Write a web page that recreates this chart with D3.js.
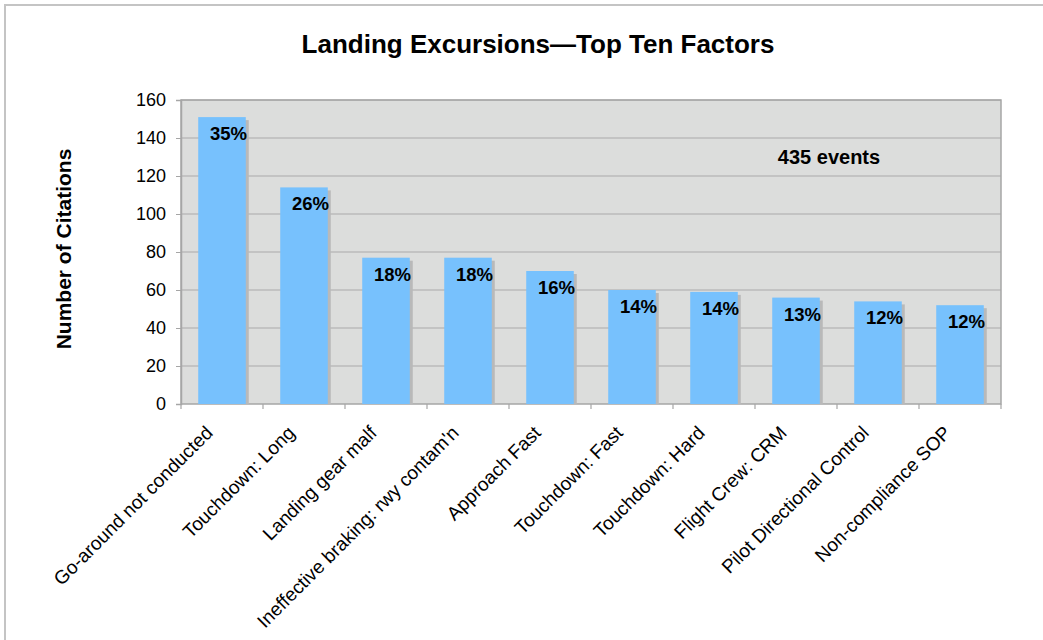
<!DOCTYPE html>
<html>
<head>
<meta charset="utf-8">
<script src="https://cdn.jsdelivr.net/npm/d3@7"></script>
<style>
  html, body { margin: 0; padding: 0; background: #fff; }
  svg { display: block; font-family: "Liberation Sans", Arial, sans-serif; }
</style>
</head>
<body>
<svg id="chart" width="1043" height="640"></svg>
<script>
// Landing excursion contributing factors (citations out of 435 events)
const categories = [
  "Go-around not conducted",
  "Touchdown: Long",
  "Landing gear malf",
  "Ineffective braking: rwy contam'n",
  "Approach Fast",
  "Touchdown: Fast",
  "Touchdown: Hard",
  "Flight Crew: CRM",
  "Pilot Directional Control",
  "Non-compliance SOP"
];
const citations = [151, 114, 77, 77, 70, 60, 59, 56, 54, 52];
const percentLabels = ["35%", "26%", "18%", "18%", "16%", "14%", "14%", "13%", "12%", "12%"];
const yTicks = [0, 20, 40, 60, 80, 100, 120, 140, 160];
const totalEvents = 435;

const svg = d3.select("#chart");
const plot = { left: 181, right: 1001, top: 100, bottom: 404 };

// outer frame
svg.append("path")
  .attr("d", "M5,640 V5 H1043")
  .attr("fill", "none")
  .attr("stroke", "#c4c4c4")
  .attr("stroke-width", 2);

const x = d3.scaleBand()
  .domain(categories)
  .range([plot.left, plot.right])
  .paddingInner(0.42)
  .paddingOuter(0.21);

const y = d3.scaleLinear()
  .domain([0, 160])
  .range([plot.bottom, plot.top]);

// plot background
svg.append("rect")
  .attr("x", plot.left).attr("y", plot.top)
  .attr("width", plot.right - plot.left)
  .attr("height", plot.bottom - plot.top)
  .attr("fill", "#dcdddc");

// gridlines
svg.append("g")
  .selectAll("line")
  .data(yTicks.filter(d => d > 0))
  .join("line")
  .attr("x1", plot.left).attr("x2", plot.right)
  .attr("y1", d => y(d)).attr("y2", d => y(d))
  .attr("stroke", "#a9a9a9")
  .attr("stroke-width", 1.2);

// plot border
svg.append("rect")
  .attr("x", plot.left).attr("y", plot.top)
  .attr("width", plot.right - plot.left)
  .attr("height", plot.bottom - plot.top)
  .attr("fill", "none")
  .attr("stroke", "#a6a6a6")
  .attr("stroke-width", 1.5);

// bar shadows
svg.append("g")
  .selectAll("rect")
  .data(citations)
  .join("rect")
  .attr("x", (d, i) => x(categories[i]) + 3)
  .attr("y", d => y(d) + 3)
  .attr("width", x.bandwidth())
  .attr("height", d => plot.bottom - y(d) - 3)
  .attr("fill", "#b9b9b9");

// bars
svg.append("g")
  .selectAll("rect")
  .data(citations)
  .join("rect")
  .attr("x", (d, i) => x(categories[i]))
  .attr("y", d => y(d))
  .attr("width", x.bandwidth())
  .attr("height", d => plot.bottom - y(d))
  .attr("fill", "#77c1fd");

// percentage labels
svg.append("g")
  .selectAll("text")
  .data(citations)
  .join("text")
  .attr("x", (d, i) => x(categories[i]) + x.bandwidth() / 2 + 6.5)
  .attr("y", d => y(d) + 23)
  .attr("text-anchor", "middle")
  .attr("font-size", 18.5)
  .attr("font-weight", "bold")
  .attr("fill", "#000")
  .text((d, i) => percentLabels[i]);

// y axis
const yAxis = d3.axisLeft(y).tickValues(yTicks).tickSize(5).tickPadding(10);
const gy = svg.append("g")
  .attr("transform", `translate(${plot.left},0)`)
  .call(yAxis);
gy.select(".domain").attr("stroke", "#a6a6a6").attr("stroke-width", 1.5);
gy.selectAll(".tick line").attr("stroke", "#a6a6a6");
gy.selectAll(".tick text")
  .attr("font-size", 18)
  .attr("font-family", "Liberation Sans, Arial, sans-serif")
  .attr("fill", "#000");

// x axis tick marks at category boundaries
const boundaries = d3.range(categories.length + 1)
  .map(i => plot.left + i * (plot.right - plot.left) / categories.length);
svg.append("g")
  .selectAll("line")
  .data(boundaries)
  .join("line")
  .attr("x1", d => d).attr("x2", d => d)
  .attr("y1", plot.bottom).attr("y2", plot.bottom + 5)
  .attr("stroke", "#a6a6a6")
  .attr("stroke-width", 1.2);

// x category labels
svg.append("g")
  .selectAll("text")
  .data(categories)
  .join("text")
  .attr("transform", d => `translate(${x(d) + x.bandwidth() / 2 - 8},${plot.bottom + 30}) rotate(-45)`)
  .attr("text-anchor", "end")
  .attr("font-size", 19)
  .attr("fill", "#000")
  .text(d => d);

// title
svg.append("text")
  .attr("x", 538).attr("y", 53)
  .attr("text-anchor", "middle")
  .attr("font-size", 26)
  .attr("font-weight", "bold")
  .text("Landing Excursions\u2014Top Ten Factors");

// y axis title
svg.append("text")
  .attr("transform", `translate(71,${(plot.top + plot.bottom) / 2 - 3}) rotate(-90)`)
  .attr("text-anchor", "middle")
  .attr("font-size", 21)
  .attr("font-weight", "bold")
  .text("Number of Citations");

// event count annotation
svg.append("text")
  .attr("x", 829).attr("y", 164)
  .attr("text-anchor", "middle")
  .attr("font-size", 20)
  .attr("font-weight", "bold")
  .text(`${totalEvents} events`);
</script>
</body>
</html>
